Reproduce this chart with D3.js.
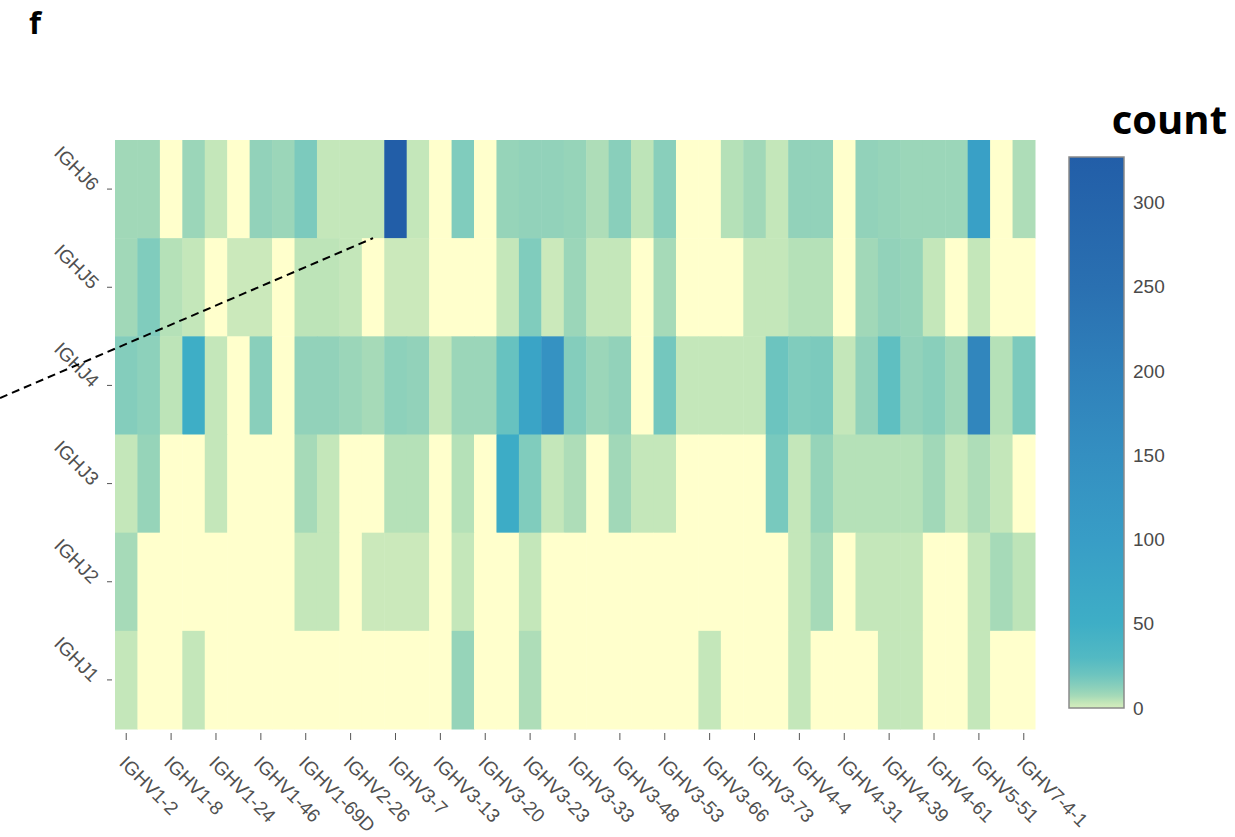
<!DOCTYPE html>
<html lang="en">
<head>
    <meta charset="UTF-8">
    <script src="https://d3js.org/d3.v7.min.js"></script>
    <title>IGHV / IGHJ pairing heatmap</title>
    <style>
        body {
            margin: 0;
            background-color: #fff;
            font-family: 'Liberation Sans', Arial, sans-serif;
        }
        .axis text {
            fill: #505050;
            font-size: 19px;
            font-family: 'Liberation Sans', Arial, sans-serif;
        }
        .axis line {
            stroke: #555;
        }
        .axis path {
            stroke: none;
        }
        .panel-label, .legend-title {
            font-family: 'Open Sans', sans-serif;
            font-weight: 700;
            fill: #000;
        }
    </style>
</head>
<body>
    <svg width="1235" height="837"></svg>
    <script>
        // V genes along the x axis (every other one gets a label)
        const vGenes = [
            "IGHV1-2", "IGHV1-3", "IGHV1-8", "IGHV1-18", "IGHV1-24", "IGHV1-45", "IGHV1-46", "IGHV1-69",
            "IGHV1-69D", "IGHV2-5", "IGHV2-26", "IGHV2-70", "IGHV3-7", "IGHV3-11", "IGHV3-13", "IGHV3-15",
            "IGHV3-20", "IGHV3-21", "IGHV3-23", "IGHV3-30", "IGHV3-33", "IGHV3-43", "IGHV3-48", "IGHV3-49",
            "IGHV3-53", "IGHV3-64", "IGHV3-66", "IGHV3-72", "IGHV3-73", "IGHV3-74", "IGHV4-4", "IGHV4-30-4",
            "IGHV4-31", "IGHV4-34", "IGHV4-39", "IGHV4-59", "IGHV4-61", "IGHV5-10-1", "IGHV5-51", "IGHV6-1",
            "IGHV7-4-1"
        ];

        // J genes, top to bottom
        const jGenes = ["IGHJ6", "IGHJ5", "IGHJ4", "IGHJ3", "IGHJ2", "IGHJ1"];

        // counts per J gene, one value per V gene (0 = no clones)
        const countsJ6 = [8, 8, 0, 9, 3, 0, 11, 9, 16, 3, 3, 3, 325, 3, 0, 15, 0, 10, 11, 11, 10, 6, 13, 4, 13, 0, 0, 5, 8, 3, 11, 11, 0, 11, 10, 9, 9, 9, 90, 0, 6];
        const countsJ5 = [8, 15, 5, 3, 0, 2, 2, 0, 4, 4, 3, 0, 2, 2, 0, 0, 0, 3, 15, 2, 9, 3, 3, 0, 7, 0, 0, 0, 3, 3, 5, 5, 0, 8, 11, 10, 3, 0, 3, 0, 0];
        const countsJ4 = [14, 12, 4, 50, 3, 0, 13, 0, 11, 11, 9, 7, 12, 11, 3, 9, 9, 22, 80, 140, 14, 9, 11, 0, 18, 3, 3, 3, 3, 20, 15, 16, 3, 11, 25, 11, 13, 8, 180, 5, 16];
        const countsJ3 = [3, 10, 0, 0, 3, 0, 0, 0, 7, 3, 0, 0, 5, 5, 0, 5, 0, 55, 15, 3, 6, 0, 8, 3, 3, 0, 0, 0, 0, 17, 3, 10, 5, 5, 5, 5, 8, 3, 6, 3, 0];
        const countsJ2 = [7, 0, 0, 0, 0, 0, 0, 0, 3, 3, 0, 2, 2, 2, 0, 3, 0, 0, 3, 0, 0, 0, 0, 0, 0, 0, 0, 0, 0, 0, 3, 7, 0, 3, 3, 3, 0, 0, 3, 7, 4];
        const countsJ1 = [3, 0, 0, 3, 0, 0, 0, 0, 0, 0, 0, 0, 0, 0, 0, 10, 0, 0, 6, 0, 0, 0, 0, 0, 0, 0, 3, 0, 0, 0, 3, 0, 0, 0, 3, 3, 0, 0, 3, 0, 0];

        // colour bar ticks
        const legendTicks = [0, 50, 100, 150, 200, 250, 300];
        const legendMax = 327;

        const countsByJ = [countsJ6, countsJ5, countsJ4, countsJ3, countsJ2, countsJ1];
        const cells = [];
        jGenes.forEach((j, r) => {
            vGenes.forEach((v, c) => {
                cells.push({ v: v, j: j, count: countsByJ[r][c] });
            });
        });

        const svg = d3.select("svg");

        // YlGnBu-like ramp, squeezed towards the low end like the original colour bar
        const colorStops = [0, 2, 4, 7, 10, 14, 20, 30, 50, 100, 150, 200, 250, legendMax];
        const colorRange = ["#d3edbd", "#cbe9bb", "#bde4b8", "#a6dab8", "#96d4b9", "#84cdbc", "#6cc4bf",
                            "#52b9c3", "#3eaec6", "#389dc6", "#348fc1", "#2f80ba", "#2a70b1", "#225ea8"];
        const color = d3.scaleLinear().domain(colorStops).range(colorRange).clamp(true);
        const emptyColor = "#ffffcc";

        // Scales
        const x = d3.scaleBand()
            .domain(vGenes)
            .range([115, 1035])
            .padding(0);

        const y = d3.scaleBand()
            .domain(jGenes)
            .range([140, 729])
            .padding(0);

        // Cells
        svg.append("g")
            .selectAll("rect")
            .data(cells)
            .enter().append("rect")
            .attr("x", d => x(d.v))
            .attr("y", d => y(d.j))
            .attr("width", x.bandwidth() + 0.5)
            .attr("height", y.bandwidth() + 0.5)
            .attr("fill", d => d.count === 0 ? emptyColor : color(d.count));

        // x axis
        const xAxis = svg.append("g")
            .attr("class", "axis")
            .attr("transform", "translate(0,733)")
            .call(d3.axisBottom(x)
                .tickValues(vGenes.filter((d, i) => i % 2 === 0))
                .tickSize(7)
                .tickSizeOuter(0));
        xAxis.selectAll("text")
            .attr("x", 0)
            .attr("y", 0)
            .attr("dy", 0)
            .attr("transform", "translate(-8,31) rotate(45)")
            .attr("text-anchor", "start");

        // y axis
        const yAxis = svg.append("g")
            .attr("class", "axis")
            .attr("transform", "translate(112,0)")
            .call(d3.axisLeft(y).tickSize(5).tickSizeOuter(0));
        yAxis.selectAll("text")
            .attr("x", 0)
            .attr("y", 0)
            .attr("dy", 0)
            .attr("transform", "translate(-21,3) rotate(45)")
            .attr("text-anchor", "end");

        // Colour bar
        const legendScale = d3.scaleLinear()
            .domain([0, legendMax])
            .range([708, 157]);

        const defs = svg.append("defs");
        const gradient = defs.append("linearGradient")
            .attr("id", "count-gradient")
            .attr("x1", "0%").attr("y1", "100%")
            .attr("x2", "0%").attr("y2", "0%");
        gradient.selectAll("stop")
            .data(colorStops)
            .enter().append("stop")
            .attr("offset", d => (d / legendMax * 100) + "%")
            .attr("stop-color", d => color(d));

        svg.append("rect")
            .attr("x", 1069)
            .attr("y", legendScale(legendMax))
            .attr("width", 55)
            .attr("height", legendScale(0) - legendScale(legendMax))
            .attr("fill", "url(#count-gradient)")
            .attr("stroke", "#8a8a8a")
            .attr("stroke-width", 1.5);

        svg.append("g")
            .selectAll("text")
            .data(legendTicks)
            .enter().append("text")
            .attr("x", 1133)
            .attr("y", d => legendScale(d))
            .attr("dy", "0.35em")
            .attr("fill", "#4a4a4a")
            .style("font-size", "19px")
            .text(d => d);

        svg.append("text")
            .attr("class", "legend-title")
            .attr("x", 1227)
            .attr("y", 134)
            .attr("text-anchor", "end")
            .style("font-size", "40px")
            .text("count");

        // Panel letter
        svg.append("text")
            .attr("class", "panel-label")
            .attr("x", 29)
            .attr("y", 34)
            .style("font-size", "31px")
            .text("f");

        // Dashed pointer from the left margin into the IGHJ6 row
        svg.append("line")
            .attr("x1", 0)
            .attr("y1", 398)
            .attr("x2", x(vGenes[11]) + x.bandwidth() / 2)
            .attr("y2", y(jGenes[0]) + y.bandwidth())
            .attr("stroke", "#000")
            .attr("stroke-width", 2)
            .attr("stroke-dasharray", "8,5");
    </script>
</body>
</html>
